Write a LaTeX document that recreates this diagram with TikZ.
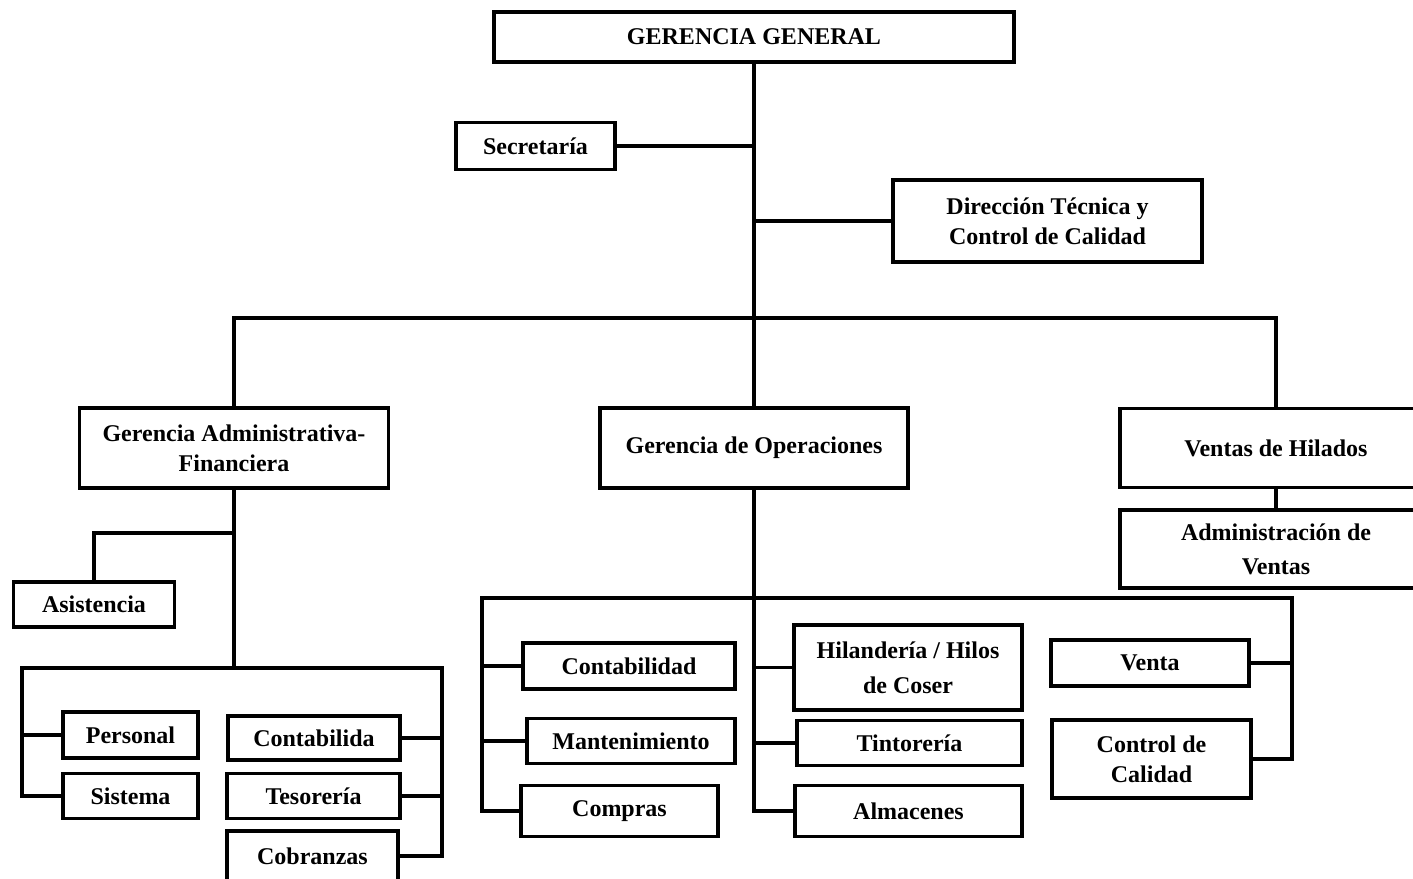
\documentclass[tikz,border=0pt]{standalone}
\usepackage{fontspec}
\setmainfont{Liberation Serif}
\begin{document}
\begin{tikzpicture}[x=1pt,y=-1pt,
  unit/.style={draw=black, line width=3.4pt, inner sep=0pt, align=center,
    font=\bfseries\fontsize{24}{30}\selectfont, fill=white},
  link/.style={line width=3.8pt, line cap=rect}]
\clip (0,0) rectangle (1413,878);
\fill[white] (0,0) rectangle (1413,878);

% top management
\node[unit, minimum width=520, minimum height=50] (gg) at (754,37) {GERENCIA GENERAL};
\node[unit, minimum width=159, minimum height=47] (sec) at (535.5,146) {Secretaría};
\node[unit, minimum width=309, minimum height=82] (dir) at (1047.5,221) {Dirección Técnica y\\Control de Calidad};

% second level
\node[unit, minimum width=309, minimum height=80] (gaf) at (234,448) {Gerencia Administrativa-\\Financiera};
\node[unit, minimum width=308, minimum height=80] (gop) at (754,448) {Gerencia de Operaciones};
\node[unit, minimum width=312, minimum height=79] (vh) at (1276,448) {Ventas de Hilados};
\node[unit, minimum width=312, minimum height=78, font=\bfseries\fontsize{24}{34}\selectfont] (adv) at (1276,549) {Administración de\\Ventas};

% administrative-financial area
\node[unit, minimum width=161, minimum height=45] (asi) at (94,604.5) {Asistencia};
\node[unit, minimum width=135, minimum height=46] (per) at (130.5,735) {Personal};
\node[unit, minimum width=135, minimum height=45] (sis) at (130.5,796) {Sistema};
\node[unit, minimum width=172, minimum height=44] (con1) at (314,738) {Contabilida};
\node[unit, minimum width=173, minimum height=45] (tes) at (313.5,796) {Tesorería};
\node[unit, minimum width=171, minimum height=50] (cob) at (312.5,856) {Cobranzas};

% operations area
\node[unit, minimum width=212, minimum height=46] (con2) at (629,666) {Contabilidad};
\node[unit, minimum width=208, minimum height=45] (man) at (631,741) {Mantenimiento};
\node[unit, minimum width=197, minimum height=51] (com) at (619.5,811) {Compras};
\node[unit, minimum width=228, minimum height=85, font=\bfseries\fontsize{24}{35}\selectfont] (hil) at (908,667.5) {Hilandería / Hilos\\de Coser};
\node[unit, minimum width=225, minimum height=45] (tin) at (909.5,743) {Tintorería};
\node[unit, minimum width=227, minimum height=51] (alm) at (908.5,811) {Almacenes};
\node[unit, minimum width=198, minimum height=46] (ven) at (1150,663) {Venta};
\node[unit, minimum width=199, minimum height=78] (cdc) at (1151.5,759) {Control de\\Calidad};

% bus lines
\coordinate (bus) at (754,318);
\coordinate (asib) at (234,533);
\coordinate (lb) at (22,668);
\coordinate (rb) at (442,668);
\coordinate (ml) at (482,598);
\coordinate (mr) at (1292,598);

% trunk from general management
\draw[link] (gg.south) -- (gop.north);
\draw[link] (sec.east) -- (sec.east -| gg.south);
\draw[link] (dir.west) -- (dir.west -| gg.south);
\draw[link] (gaf.north) |- (bus) -| (vh.north);
\draw[link] (vh.south) -- (adv.north);

% administrative-financial branches
\draw[link] (gaf.south) -- (gaf.south |- lb);
\draw[link] (asib) -| (asi.north);
\draw[link] (sis.west) -| (lb) -- (rb) |- (cob.east);
\draw[link] (per.west) -- (per.west -| lb);
\draw[link] (con1.east) -- (con1.east -| rb);
\draw[link] (tes.east) -- (tes.east -| rb);

% operations branches
\draw[link] (gop.south) -- (gop.south |- ml);
\draw[link] (com.west) -| (ml) -- (mr) |- (cdc.east);
\draw[link] (con2.west) -- (con2.west -| ml);
\draw[link] (man.west) -- (man.west -| ml);
\draw[link] (gop.south |- ml) -- (gop.south |- alm.west) -- (alm.west);
\draw[link] (hil.west) -- (hil.west -| gop.south);
\draw[link] (tin.west) -- (tin.west -| gop.south);
\draw[link] (ven.east) -- (ven.east -| mr);
\end{tikzpicture}
\end{document}
